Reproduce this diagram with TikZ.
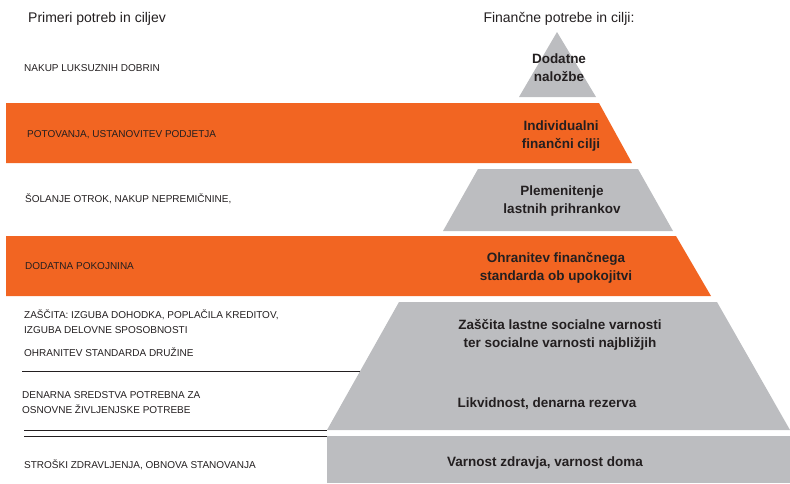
\documentclass[tikz,border=0pt]{standalone}
\usepackage{fontspec}
\setmainfont{Liberation Sans}
\usetikzlibrary{positioning}
\definecolor{orange2}{RGB}{242,101,34}
\definecolor{grey2}{RGB}{188,189,192}
\definecolor{ink}{RGB}{35,31,32}

\begin{document}
\begin{tikzpicture}
[x=1pt, y=-1pt, every node/.style={inner sep=0pt, text=ink},
 head/.style={anchor=base, font=\fontsize{14}{16}\selectfont},
 need/.style={anchor=base west, align=left, font=\fontsize{10}{14.5}\selectfont},
 goal/.style={anchor=base, align=center, font=\bfseries\fontsize{13.5}{18}\selectfont},
 sep/.style={draw=ink, line width=0.9pt}]
\useasboundingbox (0,0) rectangle (790,483);
% pyramid
\fill[grey2] (557,32) -- (596,97) -- (519,97) -- cycle;
\fill[orange2] (6,103) -- (599,103) -- (632,163) -- (6,163) -- cycle;
\fill[grey2] (478,169) -- (638,169) -- (673,231) -- (443,231) -- cycle;
\fill[orange2] (6,236) -- (676,236) -- (711,296) -- (6,296) -- cycle;
\fill[grey2] (399,302) -- (717,302) -- (790,430) -- (327,430) -- cycle;
\fill[grey2] (327,436) rectangle (790,483);
% separators
\draw[sep] (22,371) -- (360,371);
\draw[sep] (24,430) -- (327,430);
\draw[sep] (24,436) -- (327,436);
% headings
\node[head, anchor=base west] (lefthead) at (28,22) {Primeri potreb in ciljev};
\node[head] (righthead) at (559,22) {Finančne potrebe in cilji:};
% examples (two-line nodes sit on their last baseline)
\node[need] (luxury) at (24,71) {NAKUP LUKSUZNIH DOBRIN};
\node[need] (travel) at (27,137) {POTOVANJA, USTANOVITEV PODJETJA};
\node[need] (school) at (25,202) {ŠOLANJE OTROK, NAKUP NEPREMIČNINE,};
\node[need] (pension) at (25,269) {DODATNA POKOJNINA};
\node[need] (protect) at (24,333) {ZAŠČITA: IZGUBA DOHODKA, POPLAČILA KREDITOV,\\IZGUBA DELOVNE SPOSOBNOSTI};
\node[need] (family) at (24,356) {OHRANITEV STANDARDA DRUŽINE};
\node[need] (cash) at (22,413) {DENARNA SREDSTVA POTREBNA ZA\\OSNOVNE ŽIVLJENJSKE POTREBE};
\node[need] (health) at (24,468) {STROŠKI ZDRAVLJENJA, OBNOVA STANOVANJA};
% goals
\node[goal] (invest) at (559,81) {Dodatne\\naložbe};
\node[goal] (indiv) at (561,148) {Individualni\\finančni cilji};
\node[goal] (savings) at (562,213) {Plemenitenje\\lastnih prihrankov};
\node[goal] (retire) at (556,280) {Ohranitev finančnega\\standarda ob upokojitvi};
\node[goal] (social) at (560,347) {Zaščita lastne socialne varnosti\\ter socialne varnosti najbližjih};
\node[goal] (liquid) at (547,407) {Likvidnost, denarna rezerva};
\node[goal] (home) at (545,466) {Varnost zdravja, varnost doma};
\end{tikzpicture}
\end{document}
